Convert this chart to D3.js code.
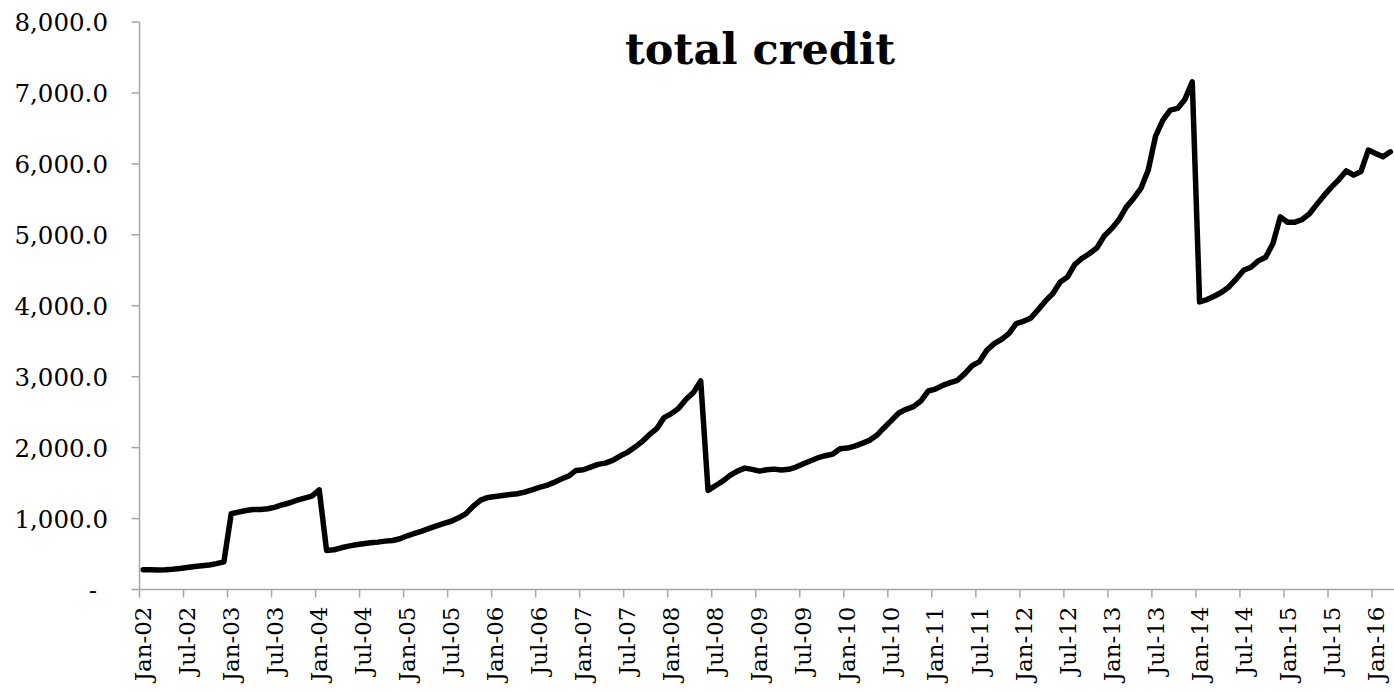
<!DOCTYPE html>
<html>
<head>
<meta charset="utf-8">
<script src="https://cdn.jsdelivr.net/npm/d3@7"></script>
<style>
  html, body { margin: 0; padding: 0; background: #fff; }
  svg { display: block; }
  text { font-family: "DejaVu Serif", Georgia, serif; fill: #000; }
</style>
</head>
<body>
<svg id="chart" width="1394" height="692"></svg>
<script>
// Monthly total credit, Jan-2002 through Mar-2016
const startMonth = new Date(2002, 0, 1);
const endMonth = new Date(2016, 3, 1); // exclusive
const months = d3.timeMonth.range(startMonth, endMonth);
const monthLabels = months.map(d3.timeFormat("%b-%y"));

const creditValues = [
  278, 278, 275, 278, 285, 295, 310, 325, 335, 345, 365, 390,
  1068, 1091, 1114, 1128, 1128, 1138, 1161, 1195, 1223, 1260, 1288, 1317,
  1405, 550, 560, 588, 611, 630, 644, 658, 668, 682, 691, 715,
  757, 790, 823, 861, 898, 931, 962, 1011, 1070, 1176, 1260, 1298,
  1312, 1326, 1340, 1350, 1373, 1406, 1439, 1467, 1510, 1557, 1599, 1679,
  1688, 1726, 1764, 1782, 1820, 1881, 1933, 2004, 2084, 2183, 2267, 2423,
  2479, 2554, 2681, 2775, 2939, 1397, 1463, 1528, 1608, 1669, 1711, 1693,
  1669, 1688, 1697, 1686, 1695, 1726, 1773, 1815, 1858, 1886, 1909, 1985,
  1994, 2022, 2060, 2102, 2173, 2281, 2384, 2488, 2540, 2578, 2657, 2798,
  2826, 2878, 2916, 2949, 3043, 3156, 3213, 3372, 3466, 3527, 3608, 3749,
  3781, 3828, 3946, 4068, 4172, 4336, 4406, 4585, 4670, 4736, 4816, 4983,
  5087, 5211, 5390, 5512, 5653, 5912, 6391, 6617, 6758, 6782, 6909, 7158,
  4054, 4087, 4134, 4190, 4265, 4378, 4501, 4543, 4632, 4684, 4877, 5253,
  5178, 5178, 5216, 5300, 5432, 5559, 5676, 5780, 5902, 5841, 5893, 6194,
  6147, 6100, 6170
];

const yTicks = [0, 1000, 2000, 3000, 4000, 5000, 6000, 7000, 8000];
const xTickEvery = 6;
const chartTitle = "total credit";

const svg = d3.select("#chart");
const plotLeft = 139.5, plotRight = 1394, plotTop = 22, plotBottom = 589.5;

const x = d3.scaleBand()
  .domain(monthLabels)
  .range([plotLeft, plotRight])
  .paddingInner(0)
  .paddingOuter(0);

const y = d3.scaleLinear()
  .domain([0, 8000])
  .range([plotBottom, plotTop]);

const axisColor = "#a6a6a6";
const fmt = d3.format(",.1f");

// Y axis
const yAxis = svg.append("g");
yAxis.append("line")
  .attr("x1", plotLeft).attr("x2", plotLeft)
  .attr("y1", y(8000)).attr("y2", plotBottom)
  .attr("stroke", axisColor).attr("stroke-width", 1.5);
yAxis.selectAll("line.tick").data(yTicks).join("line")
  .attr("class", "tick")
  .attr("x1", plotLeft - 8).attr("x2", plotLeft)
  .attr("y1", d => y(d)).attr("y2", d => y(d))
  .attr("stroke", axisColor).attr("stroke-width", 1.5);
yAxis.selectAll("text").data(yTicks).join("text")
  .attr("x", d => d === 0 ? 93 : 108)
  .attr("y", d => y(d) + 9)
  .attr("text-anchor", d => d === 0 ? "middle" : "end")
  .attr("font-size", 24.5)
  .text(d => d === 0 ? "-" : fmt(d));

// X axis
const xTickLabels = monthLabels.filter((d, i) => i % xTickEvery === 0);
const xAxis = svg.append("g");
xAxis.append("line")
  .attr("x1", plotLeft).attr("x2", plotRight)
  .attr("y1", plotBottom).attr("y2", plotBottom)
  .attr("stroke", axisColor).attr("stroke-width", 1.5);
xAxis.selectAll("line.tick").data(xTickLabels).join("line")
  .attr("class", "tick")
  .attr("x1", d => x(d)).attr("x2", d => x(d))
  .attr("y1", plotBottom).attr("y2", plotBottom + 8)
  .attr("stroke", axisColor).attr("stroke-width", 1.5);
xAxis.selectAll("text").data(xTickLabels).join("text")
  .attr("transform", d => `translate(${x(d) + x.bandwidth() / 2 + 8},${plotBottom + 17}) rotate(-90)`)
  .attr("text-anchor", "end")
  .attr("font-size", 23)
  .text(d => d);

// Series line
const line = d3.line()
  .x((d, i) => x(monthLabels[i]) + x.bandwidth() / 2)
  .y(d => y(d));

svg.append("path")
  .datum(creditValues)
  .attr("d", line)
  .attr("fill", "none")
  .attr("stroke", "#000")
  .attr("stroke-width", 5.5)
  .attr("stroke-linejoin", "round")
  .attr("stroke-linecap", "round");

// Title
svg.append("text")
  .attr("x", 760)
  .attr("y", 64)
  .attr("text-anchor", "middle")
  .attr("font-size", 43)
  .attr("font-weight", "bold")
  .text(chartTitle);
</script>
</body>
</html>
